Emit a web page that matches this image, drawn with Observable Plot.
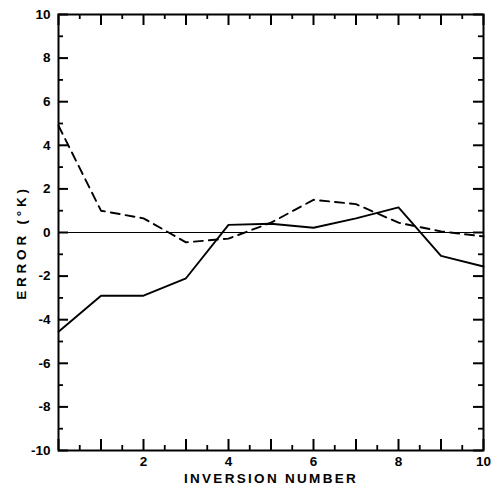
<!DOCTYPE html>
<html>
<head>
<meta charset="utf-8">
<script src="https://cdn.jsdelivr.net/npm/d3@7"></script>
<script src="https://cdn.jsdelivr.net/npm/@observablehq/plot@0.6"></script>
<style>
  html, body { margin: 0; padding: 0; background: #fff; }
</style>
</head>
<body>
<div id="chart"></div>
<script>
const inversion = [0, 1, 2, 3, 4, 5, 6, 7, 8, 9, 10];
const solidError = [-4.55, -2.9, -2.9, -2.1, 0.35, 0.4, 0.22, 0.65, 1.15, -1.07, -1.56];
const dashedError = [4.9, 1.0, 0.65, -0.45, -0.28, 0.45, 1.5, 1.3, 0.45, 0.05, -0.18];

const xMajorTicks = [0, 1, 2, 3, 4, 5, 6, 7, 8, 9, 10];
const xMinorTicks = [0.5, 1.5, 2.5, 3.5, 4.5, 5.5, 6.5, 7.5, 8.5, 9.5];
const xTickLabels = [2, 4, 6, 8, 10];
const yMajorTicks = [-10, -8, -6, -4, -2, 0, 2, 4, 6, 8, 10];
const yMinorTicks = [-9, -7, -5, -3, -1, 1, 3, 5, 7, 9];
const yTickLabels = [-10, -8, -6, -4, -2, 0, 2, 4, 6, 8, 10];
const xTitle = "INVERSION NUMBER";
const yTitle = "ERROR (°K)";

const solidData = inversion.map((x, i) => ({x, y: solidError[i]}));
const dashedData = inversion.map((x, i) => ({x, y: dashedError[i]}));

const W = 493, H = 492, mL = 58, mR = 10, mT = 14, mB = 42;
const fw = W - mL - mR, fh = H - mT - mB;

// inward tick helpers (lengths in pixels)
const xTicksBottom = (ticks, len, w) => Plot.tickX(ticks, {x: d => d, insetTop: fh - len, stroke: "#000", strokeWidth: w});
const xTicksTop = (ticks, len, w) => Plot.tickX(ticks, {x: d => d, insetBottom: fh - len, stroke: "#000", strokeWidth: w});
const yTicksLeft = (ticks, len, w) => Plot.tickY(ticks, {y: d => d, insetRight: fw - len, stroke: "#000", strokeWidth: w});
const yTicksRight = (ticks, len, w) => Plot.tickY(ticks, {y: d => d, insetLeft: fw - len, stroke: "#000", strokeWidth: w});

const chart = Plot.plot({
  width: W,
  height: H,
  marginLeft: mL,
  marginRight: mR,
  marginTop: mT,
  marginBottom: mB,
  style: {fontFamily: "'Liberation Sans', Arial, sans-serif", fontSize: "14px", fontWeight: "bold", color: "#000", background: "#fff"},
  x: {domain: [0, 10]},
  y: {domain: [-10, 10]},
  marks: [
    Plot.ruleY([0], {stroke: "#000", strokeWidth: 1}),
    Plot.line(solidData, {x: "x", y: "y", stroke: "#000", strokeWidth: 1.9}),
    Plot.line(dashedData, {x: "x", y: "y", stroke: "#000", strokeWidth: 1.9, strokeDasharray: "9,6"}),
    Plot.frame({stroke: "#000", strokeWidth: 2}),
    xTicksBottom(xMajorTicks, 11, 2),
    xTicksBottom(xMinorTicks, 5, 1.8),
    xTicksTop(xMajorTicks, 11, 2),
    xTicksTop(xMinorTicks, 5, 1.8),
    yTicksLeft(yMajorTicks, 10, 2),
    yTicksLeft(yMinorTicks, 5, 1.8),
    yTicksRight(yMajorTicks, 10, 2),
    yTicksRight(yMinorTicks, 5, 1.8),
    Plot.axisX({anchor: "bottom", ticks: xTickLabels, tickSize: 0, tickPadding: 6, label: null, fontSize: 13.5, fill: "#000", tickFormat: d => String(d)}),
    Plot.axisY({anchor: "left", ticks: yTickLabels, tickSize: 0, tickPadding: 8, label: null, fontSize: 13.5, fill: "#000", tickFormat: d => String(d)}),
    Plot.text([xTitle], {frameAnchor: "bottom", dy: 32, text: d => d, fontSize: 13.5, fill: "#000"}),
    Plot.text([yTitle], {frameAnchor: "left", dx: -37, dy: 10, rotate: -90, textAnchor: "middle", text: d => d, fontSize: 13.5, fill: "#000"})
  ]
});
d3.select(chart).selectAll("text").filter(function() { return this.textContent === xTitle; }).attr("letter-spacing", "2.3px");
d3.select(chart).selectAll("text").filter(function() { return this.textContent === yTitle; }).attr("letter-spacing", "3.8px");
document.getElementById("chart").appendChild(chart);
</script>
</body>
</html>
